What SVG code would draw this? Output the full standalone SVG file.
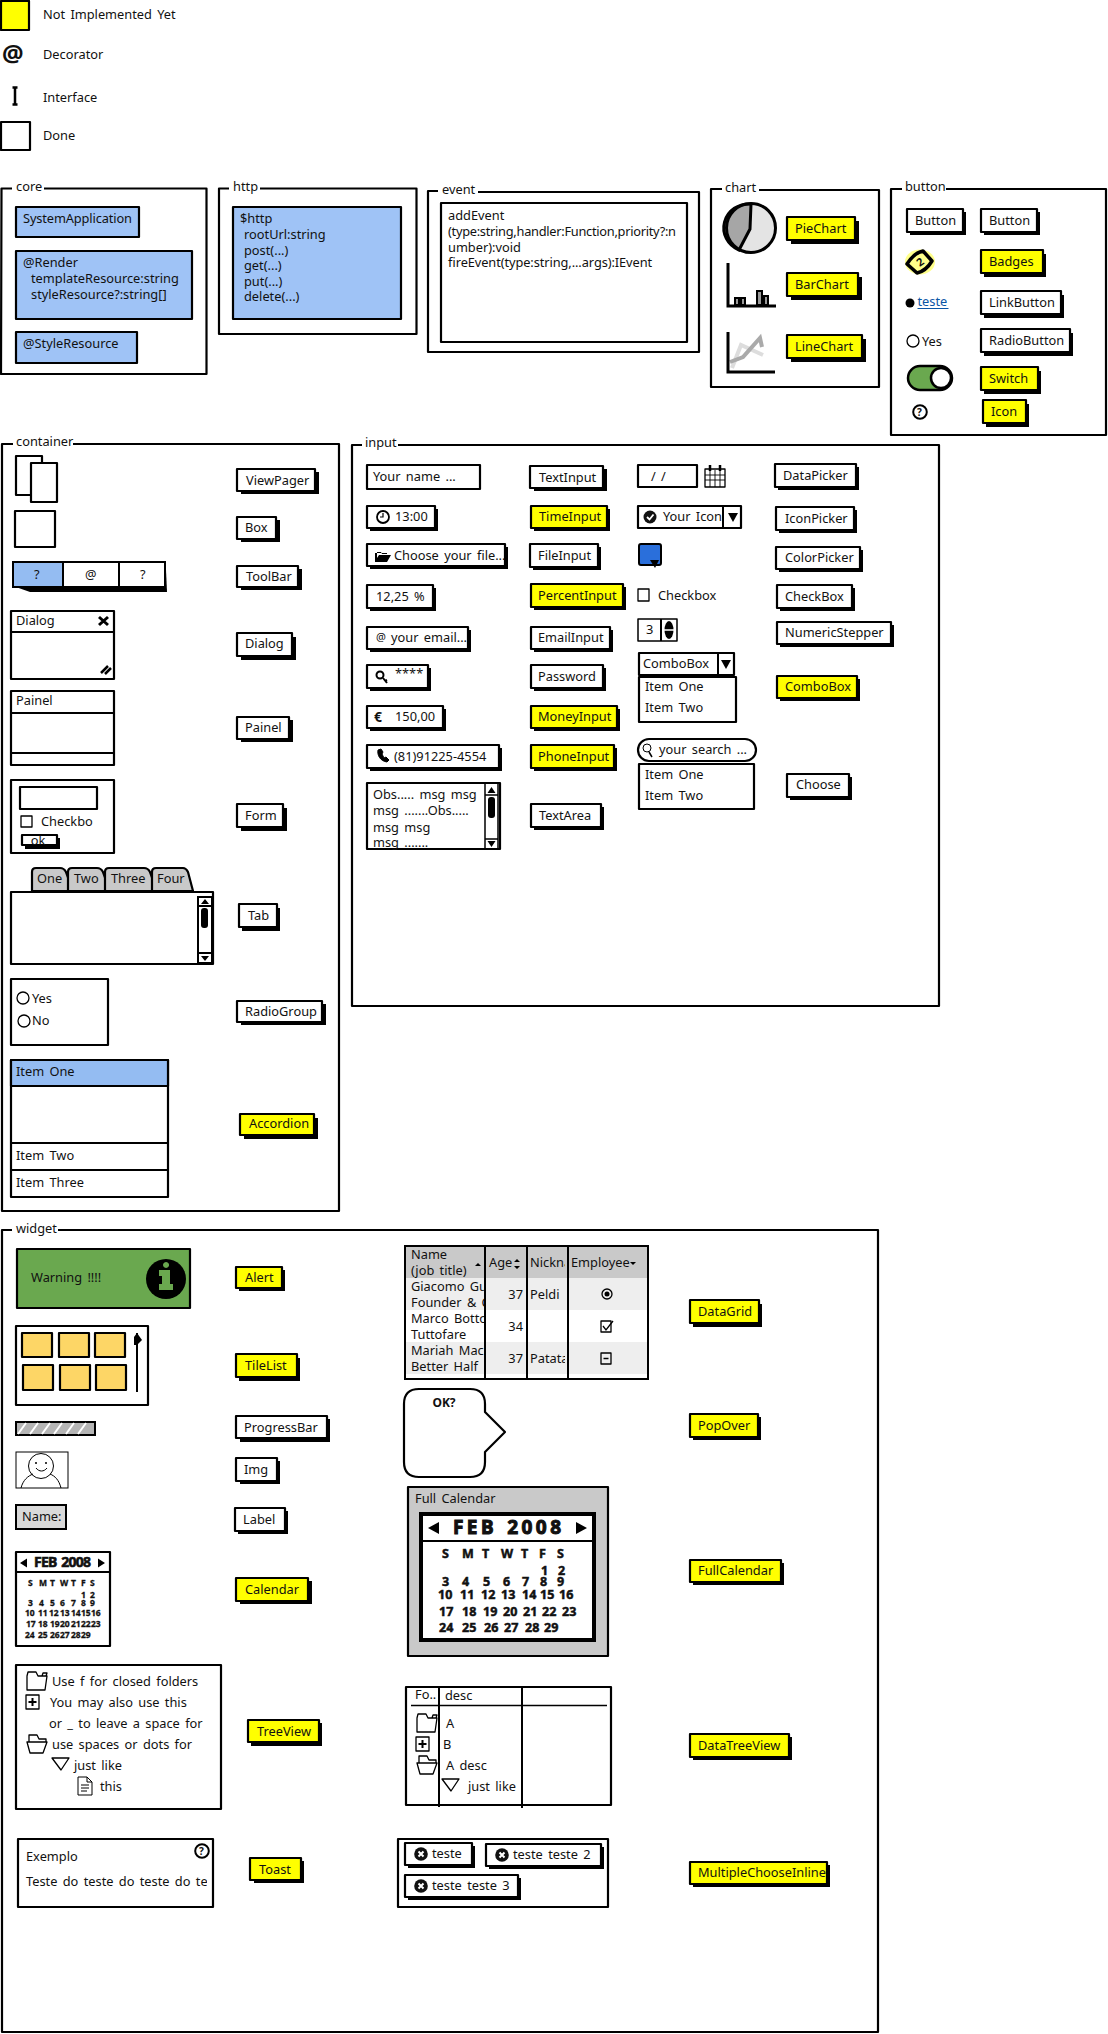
<svg xmlns="http://www.w3.org/2000/svg" width="1108" height="2034" viewBox="0 0 1108 2034">
<style>
text{font-family:"Noto Sans","Liberation Sans",sans-serif;font-size:12.8px;word-spacing:2px;fill:#111}
.b{font-weight:700}
.f,.w,.y,.l,.g,.n{stroke:#000;stroke-width:2.2;stroke-linejoin:round}
.f{fill:none}.w{fill:#fff}.y{fill:#ff0}.l{fill:#9fc3f6}.g{fill:#c9c9c9}.n{fill:#6aa84f}
.s{fill:#000}
.h{fill:none;stroke:#000;stroke-width:1.3;stroke-linejoin:round}
.m{font-size:8.5px;font-weight:700;stroke:#111;stroke-width:.3px}
.q{font-size:12.5px;font-weight:700;stroke:#111;stroke-width:.5px}
.c{font-size:14px;font-weight:700;stroke:#111;stroke-width:.6px}
</style>
<defs>
<path id="folder" class="h" d="M1 19V5l1-4h8l2 4h9l-2 14zM16 5l1-3h4l-1 3"/>
<g id="open"><path class="h" d="M2 7V0h8l2 4h7v3M0 7h20l-4 11H3z"/></g>
<g id="plus"><rect class="h" x="0" y="0" width="13" height="14"/><path d="M6.500 3v8M2.500 7h8" stroke="#000" stroke-width="2"/></g>
<path id="tri" class="h" d="M0 0h17l-8 12z"/>
<g id="help"><circle cx="0" cy="0" r="6.800" fill="#fff" stroke="#000" stroke-width="2"/><text x="-3" y="4" class="b" style="font-size:10px">?</text></g>
<g id="xc"><circle cx="0" cy="0" r="6.800" fill="#111"/><path d="M-2.500-2.500L2.500 2.500M2.500-2.500L-2.500 2.500" stroke="#fff" stroke-width="2"/></g>
<clipPath id="toastclip"><rect x="20" y="1870" width="187" height="24"/></clipPath>
<clipPath id="gridc1"><rect x="406" y="1278" width="78" height="100"/></clipPath>
<clipPath id="gridc3"><rect x="528" y="1247" width="37" height="130"/></clipPath>
</defs>

<g id="legend-not-implemented"><rect class="y" x="1" y="1" width="28" height="29"/><text x="43" y="19">Not Implemented Yet</text></g>
<g id="legend-decorator"><text x="2" y="62" class="b" style="font-size:24px">@</text><text x="43" y="59">Decorator</text></g>
<g id="legend-interface"><path d="M15 87v18M12.500 87.500h5M12.500 104.500h5" stroke="#000" stroke-width="2.500" fill="none"/><text x="43" y="102">Interface</text></g>
<g id="legend-done"><rect class="w" x="1" y="122" width="29" height="28"/><text x="43" y="140">Done</text></g>

<g id="core">
<path class="f" d="M12 188.500H1.500L1 374H206.500V188.500H44"/><text x="16" y="191">core</text>
<g id="SystemApplication"><rect class="l" x="16" y="207" width="123" height="30"/><text x="23" y="223" textLength="109">SystemApplication</text></g>
<g id="Render"><rect class="l" x="16" y="251" width="176" height="68"/><text x="23" y="267">@Render</text><text x="31" y="283">templateResource:string</text><text x="31" y="299">styleResource?:string[]</text></g>
<g id="StyleResource"><rect class="l" x="16" y="332" width="121" height="31"/><text x="23" y="348">@StyleResource</text></g>
</g>

<g id="http">
<path class="f" d="M229 188.500H219V334H416.500V188.500H260"/><text x="233" y="191">http</text>
<rect class="l" x="233" y="207" width="168" height="112"/>
<text x="240" y="223">$http</text><text x="244" y="239">rootUrl:string</text><text x="244" y="255">post(...)</text><text x="244" y="270">get(...)</text><text x="244" y="286">put(...)</text><text x="244" y="301">delete(...)</text>
</g>

<g id="event">
<path class="f" d="M438 191H428V352H699V192H478"/><text x="442" y="194">event</text>
<rect class="w" x="441" y="203" width="246" height="139"/>
<text x="448" y="220">addEvent</text><text x="448" y="236" textLength="228">(type:string,handler:Function,priority?:n</text><text x="448" y="252">umber):void</text><text x="448" y="267" textLength="204">fireEvent(type:string,...args):IEvent</text>
</g>

<g id="chart">
<path class="f" d="M722 189H711V387H879V190H759"/><text x="725" y="192">chart</text>
<g id="pie"><circle cx="751" cy="228" r="24.500" fill="#e4e4e4"/><path d="M750 229L751 204A25 24 0 0 0 739 250Z" fill="#a6a6a6" stroke="#000" stroke-width="3"/><circle cx="751" cy="228" r="24.500" fill="none" stroke="#000" stroke-width="3"/></g>
<g id="PieChart"><rect class="s" x="791" y="221" width="68" height="23"/><rect class="y" x="787" y="217" width="68" height="23"/><text x="795" y="233">PieChart</text></g>
<g id="bars"><path d="M728 263V306H776" fill="none" stroke="#000" stroke-width="3"/><path d="M735 305v-7h4v7zM741 305v-7h4v7zM757 305v-14h5v14zM764 305v-9h4v9z" fill="#999" stroke="#000" stroke-width="2"/></g>
<g id="BarChart"><rect class="s" x="791" y="277" width="71" height="23"/><rect class="y" x="787" y="273" width="71" height="23"/><text x="795" y="289">BarChart</text></g>
<g id="lines"><path d="M732 368L741 345L763 355" fill="none" stroke="#ddd" stroke-width="4"/><path d="M730 362L743 357L760 338L762 347" fill="none" stroke="#aaa" stroke-width="4"/><path d="M728 332V372H775" fill="none" stroke="#000" stroke-width="3"/></g>
<g id="LineChart"><rect class="s" x="791" y="339" width="75" height="23"/><rect class="y" x="787" y="335" width="75" height="23"/><text x="795" y="351">LineChart</text></g>
</g>

<g id="button">
<path class="f" d="M902 189H891V435H1106V189H946"/><text x="905" y="191">button</text>
<g id="Button1"><rect class="s" x="910" y="212" width="56" height="23"/><rect class="w" x="907" y="209" width="56" height="23"/><text x="915" y="225">Button</text></g>
<g id="Button2"><rect class="s" x="984" y="212" width="56" height="23"/><rect class="w" x="981" y="209" width="56" height="23"/><text x="989" y="225">Button</text></g>
<g id="badge"><ellipse cx="920" cy="262" rx="15" ry="12.500" fill="#ffff8a"/><path d="M907 264Q914 253 923 251L932 261Q926 271 917 273Z" fill="#ffff8a" stroke="#000" stroke-width="3.500" stroke-linejoin="round"/><text x="917" y="266" class="b" style="font-size:11px" transform="rotate(-35 920 262)">2</text></g>
<g id="Badges"><rect class="s" x="984" y="254" width="62" height="23"/><rect class="y" x="981" y="250" width="62" height="23"/><text x="989" y="266">Badges</text></g>
<g id="link"><circle cx="910" cy="303" r="4.500" fill="#000"/><text x="917.500" y="306" style="fill:#0a55a5">teste</text><path d="M917.500 308.500h31" stroke="#0a55a5" stroke-width="1"/></g>
<g id="LinkButton"><rect class="s" x="984" y="295" width="80" height="23"/><rect class="w" x="981" y="291" width="80" height="23"/><text x="989" y="307">LinkButton</text></g>
<g id="radio"><circle class="h" cx="913" cy="341" r="6" fill="#fff"/><text x="922" y="346">Yes</text></g>
<g id="RadioButton"><rect class="s" x="984" y="333" width="89" height="23"/><rect class="w" x="981" y="329" width="89" height="23"/><text x="989" y="345">RadioButton</text></g>
<g id="toggle"><rect class="n" x="908" y="366" width="44" height="24" rx="12" style="stroke-width:2.500"/><circle cx="941" cy="378" r="10" fill="#fff" stroke="#000" stroke-width="2.500"/></g>
<g id="Switch"><rect class="s" x="984" y="371" width="57" height="23"/><rect class="y" x="981" y="367" width="57" height="23"/><text x="989" y="383">Switch</text></g>
<use href="#help" x="920" y="412"/>
<g id="Icon"><rect class="s" x="986" y="404" width="43" height="23"/><rect class="y" x="983" y="400" width="43" height="23"/><text x="991" y="416">Icon</text></g>
</g>

<g id="container">
<path class="f" d="M13 444H2V1211H339V444H73"/><text x="16" y="446">container</text>
<g id="pager-icon"><rect class="w" x="16" y="456" width="26" height="39"/><rect class="w" x="31" y="463" width="26" height="39"/></g>
<g id="ViewPager"><rect class="s" x="241" y="472" width="78" height="22"/><rect class="w" x="237" y="469" width="78" height="22"/><text x="246" y="485">ViewPager</text></g>
<rect id="box-icon" class="w" x="15" y="511" width="40" height="36"/>
<g id="Box"><rect class="s" x="241" y="520" width="39" height="22"/><rect class="w" x="237" y="517" width="39" height="22"/><text x="245" y="532">Box</text></g>
<g id="toolbar-icon"><path class="s" d="M13 586L30 592H167L166 570H13Z"/><rect x="13" y="562" width="50" height="25" fill="#94bcf2"/><path fill="#fff" d="M63 562H165L166 587H63Z"/><path d="M13 562H165V587H13ZM63 562V587M119 562V589" fill="none" stroke="#000" stroke-width="2"/><text x="34" y="579">?</text><text x="85" y="579">@</text><text x="140" y="579">?</text></g>
<g id="ToolBar"><rect class="s" x="241" y="569" width="61" height="21"/><rect class="w" x="237" y="566" width="61" height="21"/><text x="246" y="581">ToolBar</text></g>
<g id="dialog-icon"><rect class="w" x="11" y="611" width="103" height="68"/><path d="M11 632H114" stroke="#000" stroke-width="2"/><text x="16" y="625">Dialog</text><path d="M99 617L108 625M108 617L99 625" stroke="#000" stroke-width="3"/><path d="M101 673L108 666M105 674L111 668" stroke="#000" stroke-width="2.500"/></g>
<g id="Dialog"><rect class="s" x="241" y="637" width="55" height="23"/><rect class="w" x="237" y="633" width="55" height="23"/><text x="245" y="648">Dialog</text></g>
<g id="panel-icon"><rect class="w" x="11" y="691" width="103" height="74"/><path d="M11 713H114M11 753H114" stroke="#000" stroke-width="2"/><text x="16" y="705">Painel</text></g>
<g id="Painel"><rect class="s" x="241" y="720" width="52" height="22"/><rect class="w" x="237" y="717" width="52" height="22"/><text x="245" y="732">Painel</text></g>
<g id="form-icon"><rect class="w" x="11" y="780" width="103" height="73"/><rect class="w" x="20" y="787" width="77" height="22"/><rect class="h" x="21" y="816" width="11" height="11"/><text x="41" y="826">Checkbo</text><rect class="s" x="25" y="838" width="35" height="11"/><rect class="w" x="22" y="835" width="35" height="10"/><text x="38" y="845" text-anchor="middle">ok</text></g>
<g id="Form"><rect class="s" x="241" y="808" width="46" height="23"/><rect class="w" x="237" y="804" width="46" height="23"/><text x="245" y="820">Form</text></g>
<g id="tab-icon">
<path class="g" d="M32 891V872Q32 868 36 868H60Q64 868 66 872L73 891Z"/><path class="g" d="M68 891V872Q68 868 72 868H97Q101 868 103 872L110 891Z"/><path class="g" d="M105 891V872Q105 868 109 868H144Q148 868 150 872L157 891Z"/><path class="g" d="M152 891V872Q152 868 156 868H183Q186 868 188 872L193 891Z"/>
<text x="37" y="883">One</text><text x="74" y="883">Two</text><text x="111" y="883">Three</text><text x="157" y="883">Four</text>
<rect class="w" x="11" y="892" width="202" height="72"/><path d="M198 897H212V963H198Z" fill="#fff" stroke="#000" stroke-width="2"/><path d="M198 906H212M198 953H212" stroke="#000" stroke-width="2"/><path class="s" d="M205 899l4 5h-8zM205 961l4-5h-8z"/><rect class="s" x="201" y="908" width="7" height="20" rx="3"/>
</g>
<g id="Tab"><rect class="s" x="242" y="908" width="38" height="23"/><rect class="w" x="239" y="904" width="38" height="23"/><text x="248" y="920">Tab</text></g>
<g id="radiogroup-icon"><rect class="w" x="11" y="979" width="97" height="66"/><circle class="h" cx="23" cy="998" r="6" fill="#fff"/><text x="32" y="1003">Yes</text><circle class="h" cx="24" cy="1021" r="6" fill="#fff"/><text x="32" y="1025">No</text></g>
<g id="RadioGroup"><rect class="s" x="241" y="1004" width="85" height="21"/><rect class="w" x="237" y="1001" width="85" height="21"/><text x="245" y="1016">RadioGroup</text></g>
<g id="accordion-icon"><rect class="w" x="11" y="1060" width="157" height="137"/><rect x="11" y="1060" width="157" height="26" class="l" style="fill:#94bcf2"/><path d="M11 1143H167M11 1170H167" stroke="#000" stroke-width="2"/><text x="16" y="1076">Item One</text><text x="16" y="1160">Item Two</text><text x="16" y="1187">Item Three</text></g>
<g id="Accordion"><rect class="s" x="244" y="1118" width="74" height="21"/><rect class="y" x="240" y="1114" width="74" height="21"/><text x="249" y="1128">Accordion</text></g>
</g>

<g id="input">
<path class="f" d="M362 445H352V1006H939V445H398"/><text x="365" y="447">input</text>
<g id="name-field"><rect class="w" x="367" y="465" width="113" height="24"/><text x="373" y="481">Your name ...</text></g>
<g id="TextInput"><rect class="s" x="534" y="469" width="73" height="22"/><rect class="w" x="530" y="466" width="73" height="22"/><text x="539" y="482">TextInput</text></g>
<g id="date-field"><rect class="w" x="638" y="465" width="59" height="22"/><text x="651" y="481">/ /</text></g>
<g id="cal-icon"><rect class="h" x="705" y="469" width="20" height="18"/><path d="M705 475h20M705 480h20M710 470v17M715 470v17M720 470v17" stroke="#000" stroke-width=".9"/><path d="M710 465v6M720 465v6" stroke="#000" stroke-width="2.500"/></g>
<g id="DataPicker"><rect class="s" x="778" y="467" width="81" height="23"/><rect class="w" x="775" y="464" width="81" height="23"/><text x="783" y="480">DataPicker</text></g>

<g id="time-field"><rect class="s" x="370" y="509" width="68" height="22"/><rect class="w" x="367" y="506" width="68" height="22"/><circle cx="383" cy="517" r="6" fill="#fff" stroke="#000" stroke-width="1.800"/><path d="M383 513v4h-3" stroke="#000" fill="none" stroke-width="1.200"/><text x="395" y="521">13:00</text></g>
<g id="TimeInput"><rect class="s" x="534" y="509" width="76" height="22"/><rect class="y" x="531" y="506" width="76" height="22"/><text x="539" y="521">TimeInput</text></g>
<g id="icon-field"><rect class="w" x="638" y="506" width="103" height="22"/><path d="M723 506v22" stroke="#000" stroke-width="2"/><circle cx="650" cy="517" r="6.500" fill="#111"/><path d="M647 517l2.500 2.500 4-5" fill="none" stroke="#fff" stroke-width="1.800"/><text x="663" y="521">Your Icon</text><path class="s" d="M728 513h10l-5 9z"/></g>
<g id="IconPicker"><rect class="s" x="779" y="510" width="78" height="23"/><rect class="w" x="776" y="507" width="78" height="23"/><text x="785" y="523">IconPicker</text></g>

<g id="file-field"><rect class="s" x="370" y="547" width="138" height="22"/><rect class="w" x="367" y="544" width="138" height="22"/><path class="s" d="M375 553v9h12l4-7h-12l-2 3v-6h4l1 2h5v-1z"/><text x="394" y="560">Choose your file...</text></g>
<g id="FileInput"><rect class="s" x="533" y="547" width="68" height="23"/><rect class="w" x="530" y="544" width="68" height="23"/><text x="538" y="560">FileInput</text></g>
<g id="color-field"><rect x="639" y="544" width="22" height="21" rx="2" fill="#2a6fdb" stroke="#000" stroke-width="2"/><path class="s" d="M650 560h9l-4 8z"/></g>
<g id="ColorPicker"><rect class="s" x="779" y="550" width="84" height="22"/><rect class="w" x="776" y="547" width="84" height="22"/><text x="785" y="562">ColorPicker</text></g>

<g id="percent-field"><rect class="s" x="370" y="588" width="66" height="23"/><rect class="w" x="367" y="585" width="66" height="23"/><text x="376" y="601">12,25 %</text></g>
<g id="PercentInput"><rect class="s" x="534" y="587" width="92" height="23"/><rect class="y" x="531" y="584" width="92" height="23"/><text x="538" y="600">PercentInput</text></g>
<g id="checkbox"><rect class="h" x="638" y="589" width="11" height="12"/><text x="658" y="600">Checkbox</text></g>
<g id="CheckBox"><rect class="s" x="780" y="588" width="75" height="23"/><rect class="w" x="777" y="585" width="75" height="23"/><text x="785" y="601">CheckBox</text></g>

<g id="email-field"><rect class="s" x="370" y="630" width="101" height="22"/><rect class="w" x="367" y="627" width="101" height="22"/><text x="376" y="641" style="font-size:11px">@</text><text x="391" y="642">your email...</text></g>
<g id="EmailInput"><rect class="s" x="534" y="630" width="79" height="22"/><rect class="w" x="531" y="627" width="79" height="22"/><text x="538" y="642">EmailInput</text></g>
<g id="stepper"><rect class="w" x="638" y="619" width="39" height="22" style="stroke-width:1.500"/><path d="M661 619v22" stroke="#000" stroke-width="2"/><text x="646" y="634">3</text><ellipse class="s" cx="669" cy="630" rx="4.500" ry="9"/><path d="M664 630h10" stroke="#fff" stroke-width="1.500"/></g>
<g id="NumericStepper"><rect class="s" x="780" y="625" width="114" height="22"/><rect class="w" x="777" y="622" width="114" height="22"/><text x="785" y="637">NumericStepper</text></g>

<g id="password-field"><rect class="s" x="370" y="668" width="61" height="23"/><rect class="w" x="367" y="665" width="61" height="23"/><circle cx="380" cy="675" r="3.500" fill="none" stroke="#000" stroke-width="2"/><path d="M383 678l4 5M385 681l2-1" stroke="#000" stroke-width="2"/><text x="395" y="678">****</text></g>
<g id="Password"><rect class="s" x="534" y="668" width="72" height="23"/><rect class="w" x="531" y="665" width="72" height="23"/><text x="538" y="681">Password</text></g>
<g id="combo-field"><rect class="w" x="639" y="653" width="95" height="22"/><path d="M718 653v22" stroke="#000" stroke-width="2"/><text x="643" y="668">ComboBox</text><path class="s" d="M721 660h10l-5 9z"/><rect class="w" x="639" y="677" width="97" height="45"/><text x="645" y="691">Item One</text><text x="645" y="712">Item Two</text></g>
<g id="ComboBox"><rect class="s" x="780" y="679" width="80" height="22"/><rect class="y" x="777" y="676" width="80" height="22"/><text x="785" y="691">ComboBox</text></g>

<g id="money-field"><rect class="s" x="370" y="709" width="76" height="22"/><rect class="w" x="367" y="706" width="76" height="22"/><text x="374" y="722" class="b" style="font-size:14px">€</text><text x="395" y="721">150,00</text></g>
<g id="MoneyInput"><rect class="s" x="534" y="709" width="86" height="22"/><rect class="y" x="531" y="706" width="86" height="22"/><text x="538" y="721">MoneyInput</text></g>

<g id="phone-field"><rect class="s" x="370" y="748" width="132" height="23"/><rect class="w" x="367" y="745" width="132" height="23"/><path d="M378 750c-1 5 2 11 9 12l2-2-3-3-2 1-2-4 1-2-2-3z" fill="#000" stroke="#000"/><text x="394" y="761">(81)91225-4554</text></g>
<g id="PhoneInput"><rect class="s" x="534" y="748" width="83" height="23"/><rect class="y" x="531" y="745" width="83" height="23"/><text x="538" y="761">PhoneInput</text></g>
<g id="search-field"><rect class="w" x="638" y="739" width="118" height="22" rx="11"/><circle cx="647" cy="748" r="4" fill="none" stroke="#000"/><path d="M649 752l3 5" stroke="#000" stroke-width="1.500"/><text x="659" y="754">your search ...</text><rect class="w" x="639" y="764" width="115" height="45"/><text x="645" y="779">Item One</text><text x="645" y="800">Item Two</text></g>
<g id="Choose"><rect class="s" x="790" y="777" width="62" height="23"/><rect class="w" x="787" y="774" width="62" height="23"/><text x="796" y="789">Choose</text></g>

<g id="textarea-field"><rect class="w" x="367" y="783" width="133" height="66"/><text x="373" y="799">Obs..... msg msg</text><text x="373" y="815">msg .......Obs.....</text><text x="373" y="832">msg msg</text><text x="373" y="847">msg .......</text><path d="M485 784V848M498 784V848" stroke="#000" stroke-width="1.500"/><path d="M485 795H498M485 839H498" stroke="#000" stroke-width="1.500"/><path class="s" d="M491.500 787l4 6h-8zM491.500 847l4-6h-8z"/><rect class="s" x="488" y="797" width="7" height="21" rx="3"/></g>
<g id="TextArea"><rect class="s" x="534" y="807" width="70" height="23"/><rect class="w" x="531" y="804" width="70" height="23"/><text x="539" y="820">TextArea</text></g>
</g>

<g id="widget">
<path class="f" d="M12 1230H2V2032H878V1230H58"/><text x="16" y="1233">widget</text>
<g id="alert-icon"><rect class="n" x="17" y="1249" width="173" height="59"/><text x="31" y="1282">Warning !!!!</text><circle cx="166" cy="1279" r="20" fill="#000"/><path d="M166 1262a3 3 0 1 0 .1 0zM159 1270h11v14h3v6h-14v-6h3v-8h-3z" fill="#6aa84f"/></g>
<g id="Alert"><rect class="s" x="239" y="1270" width="46" height="21"/><rect class="y" x="236" y="1267" width="46" height="21"/><text x="245" y="1282">Alert</text></g>
<g id="tilelist-icon"><rect class="w" x="16" y="1326" width="132" height="79"/>
<rect class="f" style="fill:#fdd666" x="22" y="1333" width="30" height="24"/><rect class="f" style="fill:#fdd666" x="59" y="1333" width="30" height="24"/><rect class="f" style="fill:#fdd666" x="95" y="1333" width="30" height="24"/><rect class="f" style="fill:#fdd666" x="23" y="1365" width="30" height="25"/><rect class="f" style="fill:#fdd666" x="60" y="1365" width="30" height="25"/><rect class="f" style="fill:#fdd666" x="96" y="1365" width="30" height="25"/>
<path d="M137 1333v59" stroke="#000" stroke-width="2"/><path class="s" d="M134 1337l3-4 5 7-5 5h-3z"/></g>
<g id="TileList"><rect class="s" x="239" y="1358" width="61" height="23"/><rect class="y" x="236" y="1354" width="61" height="23"/><text x="245" y="1370">TileList</text></g>
<g id="progress-icon"><rect x="16" y="1422" width="79" height="13" fill="#b5b5b5" stroke="#000" stroke-width="2"/><path d="M18 1434l8-11M30 1434l8-11M42 1434l8-11M54 1434l8-11M66 1434l8-11M78 1434l8-11" stroke="#fff" stroke-width="2"/></g>
<g id="ProgressBar"><rect class="s" x="240" y="1419" width="90" height="23"/><rect class="w" x="236" y="1416" width="91" height="22"/><text x="244" y="1432">ProgressBar</text></g>
<g id="img-icon"><rect x="16" y="1452" width="52" height="36" fill="#fff" stroke="#000" stroke-width="1"/><circle cx="41" cy="1466" r="12.500" fill="none" stroke="#000"/><path d="M21 1488c2-8 7-12 12-14M61 1488c-2-8-6-12-11-14M36 1468c3 4 8 4 11 0" fill="none" stroke="#000"/><path d="M35 1463h2M45 1463h2" stroke="#000" stroke-width="1.500"/></g>
<g id="Img"><rect class="s" x="240" y="1461" width="40" height="23"/><rect class="w" x="236" y="1458" width="41" height="23"/><text x="244" y="1474">Img</text></g>
<g id="name-label"><rect x="16" y="1505" width="50" height="24" fill="#d9d9d9" stroke="#000" stroke-width="2"/><text x="22" y="1521">Name:</text></g>
<g id="Label"><rect class="s" x="238" y="1511" width="50" height="23"/><rect class="w" x="235" y="1508" width="50" height="23"/><text x="243" y="1524">Label</text></g>
<g id="calendar-icon"><rect class="w" x="16" y="1552" width="94" height="94"/><path d="M16 1572H110" stroke="#000" stroke-width="2"/><path class="s" d="M20 1563l7-4.500v9zM105 1563l-7-4.500v9z"/><text x="34" y="1567" textLength="57" class="c">FEB 2008</text>
<text class="m" x="28 39 50 60 71 81 90" y="1586">SMTWTFS</text>
<text class="m" y="1598"><tspan x="81">1</tspan> <tspan x="90">2</tspan></text>
<text class="m" y="1606"><tspan x="28">3</tspan> <tspan x="39">4</tspan> <tspan x="50">5</tspan> <tspan x="60">6</tspan> <tspan x="71">7</tspan> <tspan x="81">8</tspan> <tspan x="90">9</tspan></text>
<text class="m" y="1616"><tspan x="25">10</tspan> <tspan x="38">11</tspan> <tspan x="49">12</tspan> <tspan x="60">13</tspan> <tspan x="71">14</tspan> <tspan x="81">15</tspan> <tspan x="91">16</tspan></text>
<text class="m" y="1627"><tspan x="26">17</tspan> <tspan x="38">18</tspan> <tspan x="50">19</tspan> <tspan x="60">20</tspan> <tspan x="71">21</tspan> <tspan x="81">22</tspan> <tspan x="91">23</tspan></text>
<text class="m" y="1638"><tspan x="25">24</tspan> <tspan x="38">25</tspan> <tspan x="50">26</tspan> <tspan x="60">27</tspan> <tspan x="71">28</tspan> <tspan x="81">29</tspan></text></g>
<g id="Calendar"><rect class="s" x="240" y="1581" width="72" height="23"/><rect class="y" x="236" y="1578" width="72" height="23"/><text x="245" y="1594">Calendar</text></g>
<g id="treeview-icon"><rect class="w" x="16" y="1665" width="205" height="144"/>
<use href="#folder" x="26" y="1671"/><use href="#plus" x="26" y="1695"/><use href="#open" x="27" y="1735"/><use href="#tri" x="52" y="1758"/>
<path class="h" d="M78 1777h9l5 5v13H78zM87 1777v5h5M81 1785h8M81 1788h8M81 1791h6" style="stroke-width:1"/>
<text x="52" y="1686">Use f for closed folders</text><text x="50" y="1707">You may also use this</text><text x="49" y="1728">or _ to leave a space for</text><text x="52" y="1749">use spaces or dots for</text><text x="74" y="1770">just like</text><text x="100" y="1791">this</text></g>
<g id="TreeView"><rect class="s" x="251" y="1723" width="71" height="23"/><rect class="y" x="248" y="1720" width="71" height="22"/><text x="257" y="1736">TreeView</text></g>
<g id="toast-icon"><rect class="w" x="18" y="1839" width="195" height="68"/><text x="26" y="1861">Exemplo</text><text x="26" y="1886" clip-path="url(#toastclip)">Teste do teste do teste do teste</text><use href="#help" x="202" y="1851"/></g>
<g id="Toast"><rect class="s" x="254" y="1861" width="50" height="22"/><rect class="y" x="250" y="1858" width="51" height="22"/><text x="259" y="1874">Toast</text></g>

<g id="datagrid-icon"><rect x="405" y="1246" width="243" height="133" fill="#fff" stroke="#000" stroke-width="2"/><rect x="406" y="1247" width="241" height="31" fill="#c9c9c9"/><rect x="406" y="1278" width="241" height="32" fill="#eee"/><rect x="406" y="1342" width="241" height="32" fill="#eee"/><path d="M485 1246V1379M527 1246V1379M568 1246V1379" stroke="#000" stroke-width="2"/>
<text x="411" y="1259">Name</text><text x="411" y="1275">(job title)</text><path class="s" d="M475 1266l3-3 3 3z"/>
<text x="489" y="1267">Age</text><path class="s" d="M514 1262l3-3 3 3zM514 1266l3 3 3-3z"/><text x="530" y="1267" clip-path="url(#gridc3)">Nickna</text><text x="571" y="1267">Employee</text><path class="s" d="M630 1262h6l-3 3z"/>
<g clip-path="url(#gridc1)"><text x="411" y="1291">Giacomo Gui</text><text x="411" y="1307">Founder &amp; CE</text><text x="411" y="1323">Marco Bottom</text><text x="411" y="1339">Tuttofare</text><text x="411" y="1355">Mariah Macla</text><text x="411" y="1371">Better Half</text></g>
<text x="523" y="1299" text-anchor="end">37</text><text x="523" y="1331" text-anchor="end">34</text><text x="523" y="1363" text-anchor="end">37</text><text x="530" y="1299">Peldi</text><text x="530" y="1363" clip-path="url(#gridc3)">Patata</text>
<circle class="h" cx="607" cy="1294" r="5" fill="#fff"/><circle cx="607" cy="1294" r="2.500" fill="#000"/><rect class="h" x="601" y="1321" width="10" height="11"/><path d="M603 1326l3 4 7-9" fill="none" stroke="#000" stroke-width="1.300"/><rect class="h" x="601" y="1353" width="10" height="11"/><path d="M603.500 1358.500h5" stroke="#000" stroke-width="1.500"/></g>
<g id="DataGrid"><rect class="s" x="693" y="1304" width="69" height="23"/><rect class="y" x="690" y="1300" width="69" height="23"/><text x="698" y="1316">DataGrid</text></g>
<g id="popover-icon"><path class="w" d="M419 1389H470Q485 1389 485 1404V1412L505 1432L485 1452V1462Q485 1477 470 1477H419Q404 1477 404 1462V1404Q404 1389 419 1389Z"/><text x="444" y="1407" text-anchor="middle" class="b" style="font-size:12px">OK?</text></g>
<g id="PopOver"><rect class="s" x="693" y="1417" width="68" height="23"/><rect class="y" x="690" y="1414" width="68" height="23"/><text x="698" y="1430">PopOver</text></g>
<g id="fullcalendar-icon"><rect class="g" x="408" y="1487" width="200" height="169"/><text x="415" y="1503">Full Calendar</text><rect x="421" y="1514" width="173" height="126" fill="#fff" stroke="#000" stroke-width="4"/><path d="M421 1541H594" stroke="#000" stroke-width="2"/><path class="s" d="M428 1528l11-6v12zM587 1528l-11-6v12z"/><text x="453" y="1534" textLength="108" class="c" style="font-size:19px;stroke-width:1px">FEB 2008</text>
<text class="q" x="442 462 482 501 521 539 557" y="1558">SMTWTFS</text>
<text class="q" y="1575"><tspan x="541">1</tspan> <tspan x="558">2</tspan></text>
<text class="q" y="1586"><tspan x="442">3</tspan> <tspan x="462">4</tspan> <tspan x="483">5</tspan> <tspan x="503">6</tspan> <tspan x="522">7</tspan> <tspan x="540">8</tspan> <tspan x="557">9</tspan></text>
<text class="q" y="1599"><tspan x="438">10</tspan> <tspan x="460">11</tspan> <tspan x="481">12</tspan> <tspan x="501">13</tspan> <tspan x="522">14</tspan> <tspan x="540">15</tspan> <tspan x="559">16</tspan></text>
<text class="q" y="1616"><tspan x="439">17</tspan> <tspan x="462">18</tspan> <tspan x="483">19</tspan> <tspan x="503">20</tspan> <tspan x="523">21</tspan> <tspan x="542">22</tspan> <tspan x="562">23</tspan></text>
<text class="q" y="1632"><tspan x="439">24</tspan> <tspan x="462">25</tspan> <tspan x="484">26</tspan> <tspan x="504">27</tspan> <tspan x="525">28</tspan> <tspan x="544">29</tspan></text></g>
<g id="FullCalendar"><rect class="s" x="693" y="1563" width="91" height="22"/><rect class="y" x="690" y="1560" width="91" height="22"/><text x="698" y="1575">FullCalendar</text></g>
<g id="datatree-icon"><rect class="w" x="406" y="1687" width="205" height="118"/><path d="M439 1687V1807M522 1687V1808" stroke="#000" stroke-width="2"/><path d="M411 1705.500H607" stroke="#000" stroke-width="1.500"/><text x="415" y="1699">Fo..</text><text x="445" y="1700">desc</text>
<use href="#folder" x="416" y="1713"/><use href="#plus" x="416" y="1737"/><use href="#open" x="417" y="1756"/><use href="#tri" x="442" y="1779"/>
<text x="446" y="1728">A</text><text x="443" y="1749">B</text><text x="446" y="1770">A desc</text><text x="468" y="1791">just like</text></g>
<g id="DataTreeView"><rect class="s" x="693" y="1737" width="99" height="23"/><rect class="y" x="690" y="1734" width="99" height="23"/><text x="698" y="1750">DataTreeView</text></g>
<g id="multiple-icon"><rect class="w" x="398" y="1839" width="210" height="68"/>
<g id="chip1"><rect class="s" x="408" y="1846" width="67" height="22"/><rect class="w" x="405" y="1843" width="67" height="22"/><use href="#xc" x="421" y="1854"/><text x="432" y="1858">teste</text></g>
<g id="chip2"><rect class="s" x="489" y="1847" width="115" height="22"/><rect class="w" x="486" y="1844" width="115" height="22"/><use href="#xc" x="502" y="1855"/><text x="513" y="1859">teste teste 2</text></g>
<g id="chip3"><rect class="s" x="408" y="1878" width="113" height="22"/><rect class="w" x="405" y="1875" width="113" height="22"/><use href="#xc" x="421" y="1886"/><text x="432" y="1890">teste teste 3</text></g></g>
<g id="MultipleChooseInline"><rect class="s" x="693" y="1865" width="137" height="22"/><rect class="y" x="690" y="1862" width="137" height="22"/><text x="698" y="1877">MultipleChooseInline</text></g>
</g>
</svg>
